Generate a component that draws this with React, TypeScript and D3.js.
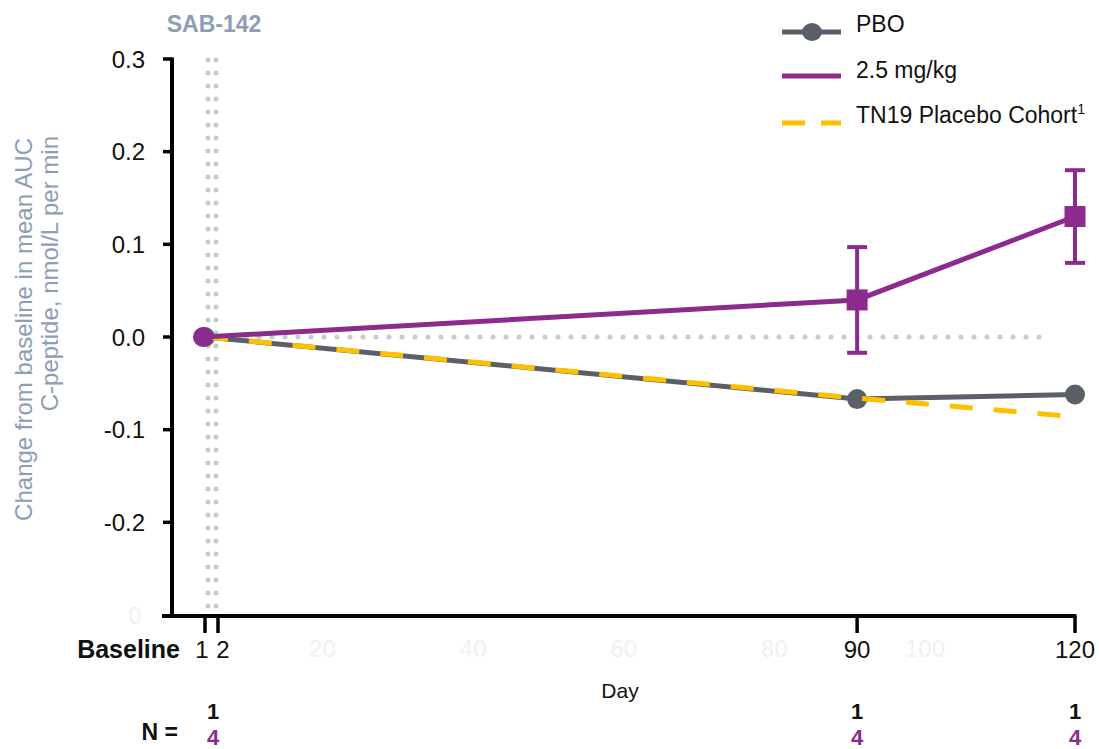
import React from "react";
import * as d3 from "d3";

// data
const days = [1, 90, 120];
const pboValues = [0, -0.067, -0.062];
const doseValues = [0, 0.04, 0.13];
const doseErrors = [0, 0.057, 0.05];
const tn19Values = [0, -0.066, -0.086];
const pboN = [1, 1, 1];
const doseN = [4, 4, 4];
const yTicks = [0.3, 0.2, 0.1, 0.0, -0.1, -0.2];
const xTicks = [1, 2, 90, 120];
const ghostXTicks = [20, 40, 60, 80, 100];
const legendItems = ["PBO", "2.5 mg/kg", "TN19 Placebo Cohort"];

const GRAY = "#5b6068";
const PURPLE = "#8c2a8e";
const YELLOW = "#ffc000";
const DOTS = "#c9c9cf";
const SLATE = "#8d9db6";
const GHOST = "#f1f1f1";
const FONT = "'Liberation Sans', Arial, Helvetica, sans-serif";

export default function App() {
  const width = 1099;
  const height = 749;

  // days 1 and 2 are spread apart, then linear up to 120
  const xScale = d3.scaleLinear().domain([1, 2, 120]).range([205, 218, 1075]);
  // hidden default axis that shows through faintly
  const ghostScale = d3.scaleLinear().domain([0, 100]).range([172, 925]);
  const yScale = d3.scaleLinear().domain([-0.3, 0.3]).range([615, 59]);

  const axisX = 172;
  const axisY = yScale(-0.3) + 1;

  const line = d3
    .line<number>()
    .x((_, i) => xScale(days[i]))
    .y((v) => yScale(v));

  return (
    <svg
      width={width}
      height={height}
      style={{ position: "absolute", left: 0, top: 0 }}
      fontFamily={FONT}
    >
      {/* header */}
      <text x={214} y={32} textAnchor="middle" fontSize={23} fontWeight="bold" fill={SLATE}>
        SAB-142
      </text>

      {/* y axis title */}
      <text
        transform="translate(32,138) rotate(-90)"
        textAnchor="end"
        fontSize={24}
        fill={SLATE}
      >
        Change from baseline in mean AUC
      </text>
      <text
        transform="translate(58,136) rotate(-90)"
        textAnchor="end"
        fontSize={24}
        fill={SLATE}
      >
        C-peptide, nmol/L per min
      </text>

      {/* dotted reference lines */}
      {[1, 2].map((d) => (
        <line
          key={"v" + d}
          x1={xScale(d) + (d === 1 ? 3 : -2)}
          x2={xScale(d) + (d === 1 ? 3 : -2)}
          y1={yScale(0.3) + 1}
          y2={axisY - 6}
          stroke={DOTS}
          strokeWidth={5}
          strokeLinecap="round"
          strokeDasharray="0 13"
        />
      ))}
      <line
        x1={xScale(2) + 2}
        x2={1052}
        y1={yScale(0)}
        y2={yScale(0)}
        stroke={DOTS}
        strokeWidth={5}
        strokeLinecap="round"
        strokeDasharray="0 13"
      />

      {/* y axis */}
      <line x1={axisX} x2={axisX} y1={yScale(0.3) - 1.5} y2={axisY} stroke="#000" strokeWidth={4} />
      {yTicks.map((t) => (
        <g key={"yt" + t}>
          <line x1={axisX - 9} x2={axisX} y1={yScale(t)} y2={yScale(t)} stroke="#000" strokeWidth={3.5} />
          <text x={145} y={yScale(t)} textAnchor="end" dominantBaseline="central" fontSize={24} fill="#111">
            {t.toFixed(1)}
          </text>
        </g>
      ))}
      <text x={135} y={yScale(-0.3)} textAnchor="middle" dominantBaseline="central" fontSize={24} fill={GHOST}>
        0
      </text>

      {/* x axis */}
      <line x1={162} x2={xScale(120) + 1.5} y1={axisY} y2={axisY} stroke="#000" strokeWidth={4} />
      {ghostXTicks.map((t) => (
        <text key={"gx" + t} x={ghostScale(t)} y={657} textAnchor="middle" fontSize={24} fill={GHOST}>
          {t}
        </text>
      ))}
      {xTicks.map((t) => (
        <g key={"xt" + t}>
          <line x1={xScale(t)} x2={xScale(t)} y1={axisY} y2={axisY + 17} stroke="#000" strokeWidth={3.5} />
          <text x={xScale(t) + (t === 2 ? 5 : t === 1 ? -3 : 0)} y={658} textAnchor="middle" fontSize={24} fill="#111">
            {t}
          </text>
        </g>
      ))}
      <text x={180} y={658} textAnchor="end" fontSize={25} fontWeight="bold" fill="#111">
        Baseline
      </text>
      <text x={620} y={698} textAnchor="middle" fontSize={21} fill="#111">
        Day
      </text>

      {/* N row */}
      <text x={178} y={740} textAnchor="end" fontSize={23} fontWeight="bold" fill="#111">
        N =
      </text>
      {days.map((d, i) => (
        <g key={"n" + d}>
          <text x={xScale(d) + (i === 0 ? 8 : 0)} y={719} textAnchor="middle" fontSize={22} fontWeight="bold" fill="#111">
            {pboN[i]}
          </text>
          <text x={xScale(d) + (i === 0 ? 8 : 0)} y={745} textAnchor="middle" fontSize={22} fontWeight="bold" fill={PURPLE}>
            {doseN[i]}
          </text>
        </g>
      ))}

      {/* PBO */}
      <path d={line(pboValues) ?? ""} fill="none" stroke={GRAY} strokeWidth={5} />
      {pboValues.map((v, i) => (
        <circle key={"pc" + i} cx={xScale(days[i])} cy={yScale(v)} r={10} fill={GRAY} />
      ))}

      {/* TN19 placebo cohort */}
      <path
        d={line(tn19Values) ?? ""}
        fill="none"
        stroke={YELLOW}
        strokeWidth={5}
        strokeDasharray="23 21"
      />

      {/* 2.5 mg/kg */}
      <path d={line(doseValues) ?? ""} fill="none" stroke={PURPLE} strokeWidth={5} />
      {doseValues.map((v, i) =>
        doseErrors[i] > 0 ? (
          <g key={"err" + i} stroke={PURPLE} strokeWidth={4}>
            <line
              x1={xScale(days[i])}
              x2={xScale(days[i])}
              y1={yScale(v - doseErrors[i])}
              y2={yScale(v + doseErrors[i])}
            />
            <line
              x1={xScale(days[i]) - 10}
              x2={xScale(days[i]) + 10}
              y1={yScale(v + doseErrors[i])}
              y2={yScale(v + doseErrors[i])}
            />
            <line
              x1={xScale(days[i]) - 10}
              x2={xScale(days[i]) + 10}
              y1={yScale(v - doseErrors[i])}
              y2={yScale(v - doseErrors[i])}
            />
          </g>
        ) : null
      )}
      {doseValues.map((v, i) =>
        i === 0 ? (
          <circle key={"dm" + i} cx={xScale(days[i]) - 2} cy={yScale(v)} r={10} fill={PURPLE} />
        ) : (
          <rect
            key={"dm" + i}
            x={xScale(days[i]) - 10.5}
            y={yScale(v) - 10.5}
            width={21}
            height={21}
            fill={PURPLE}
          />
        )
      )}

      {/* legend */}
      <g>
        <line x1={782} x2={841} y1={32} y2={32} stroke={GRAY} strokeWidth={5} />
        <ellipse cx={812} cy={32} rx={10} ry={9} fill={GRAY} />
        <line x1={782} x2={841} y1={76} y2={76} stroke={PURPLE} strokeWidth={5} />
        <line x1={782} x2={841} y1={123} y2={123} stroke={YELLOW} strokeWidth={5} strokeDasharray="23 16" />
        {legendItems.map((label, i) => (
          <text key={label} x={856} y={32 + i * 45.5} fontSize={23} fill="#111">
            {label}
            {i === 2 ? (
              <tspan dy={-9} fontSize={14}>
                1
              </tspan>
            ) : null}
          </text>
        ))}
      </g>
    </svg>
  );
}
